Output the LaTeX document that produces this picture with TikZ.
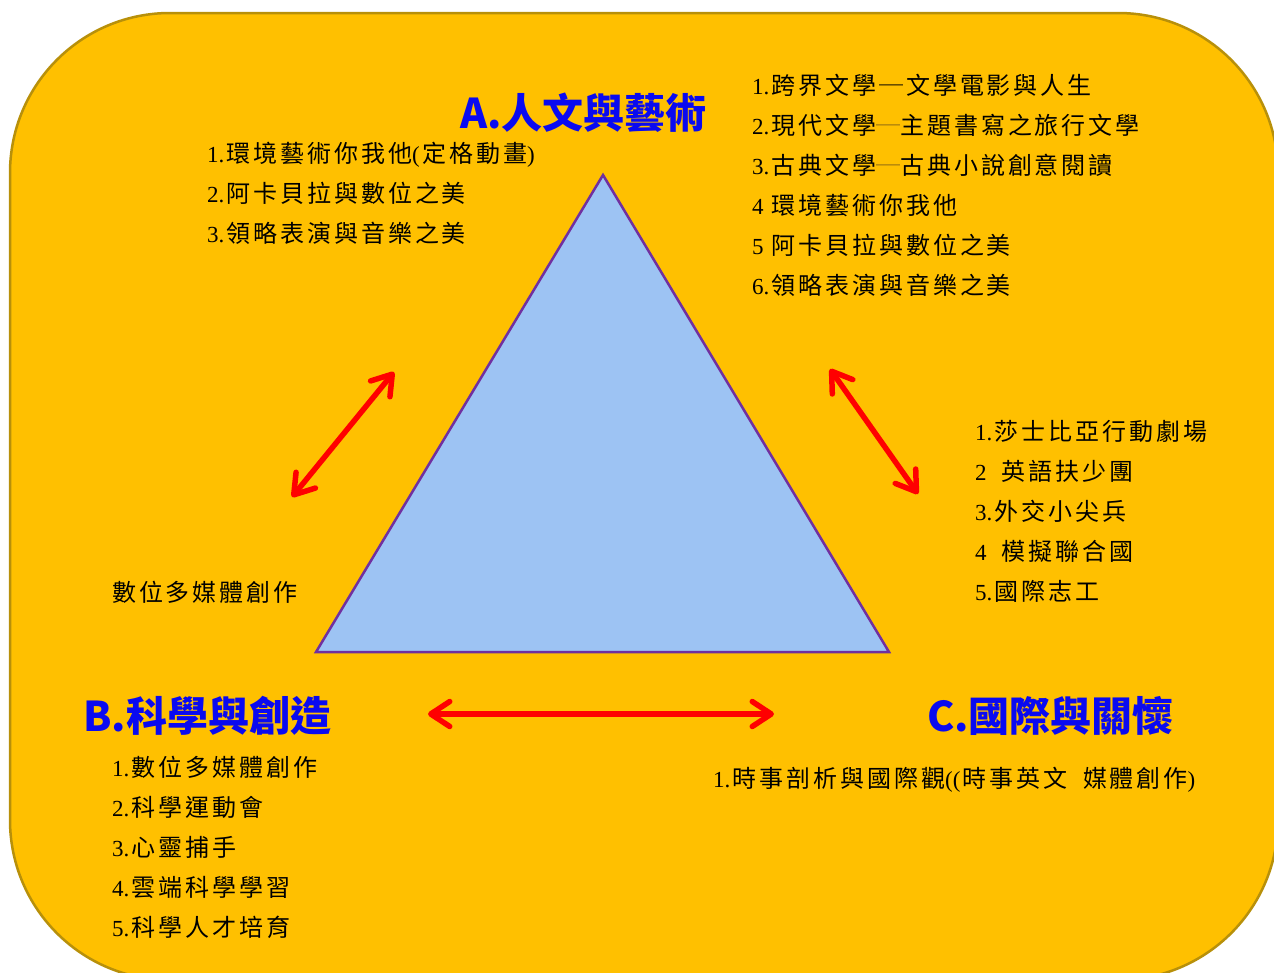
\documentclass[tikz,border=0pt]{standalone}
\usepackage{fontspec}
\usetikzlibrary{arrows.meta}
\setmainfont{Liberation Serif}
\newfontfamily\cjfont{Noto Sans CJK TC}[LetterSpace=12]
\newfontfamily\titlefont{Noto Sans CJK TC}
\newcommand{\cj}[1]{{\kern2.5pt\cjfont\fontsize{24}{24}\selectfont #1}}
\definecolor{bgfill}{RGB}{255,192,0}
\definecolor{bgline}{RGB}{184,144,10}
\definecolor{trifill}{RGB}{157,195,243}
\definecolor{triline}{RGB}{112,48,160}
\definecolor{ttlblue}{RGB}{10,10,240}
\definecolor{dashbrown}{RGB}{140,105,20}
\begin{document}
\begin{tikzpicture}[x=1pt,y=-1pt,
  txt/.style={anchor=base west,inner sep=0pt,font=\fontsize{23}{23}\selectfont},
  ttl/.style={anchor=base west,inner sep=0pt,text=ttlblue,font=\titlefont\bfseries\fontsize{41}{41}\selectfont},
  redarrow/.style={draw=red,line width=5.5pt,line cap=round,
    {Straight Barb[length=19pt,width=25pt,round]}-{Straight Barb[length=19pt,width=25pt,round]}},
  bgbox/.style={fill=bgfill,draw=bgline,line width=2.5pt,rounded corners=160pt},
  tri/.style={fill=trifill,draw=triline,line width=2.5pt,line join=miter}]
\useasboundingbox (0,0) rectangle (1274,972);
\fill[white] (0,0) rectangle (1274,972);
\draw[bgbox] (10,13) rectangle (1278,980);

% triangle
\coordinate (tA) at (603,175);
\coordinate (tB) at (316,652);
\coordinate (tC) at (889,652);
\draw[tri] (tA) -- (tB) -- (tC) -- cycle;

% arrows
\coordinate (l1) at (292,497); \coordinate (l2) at (394,372);
\coordinate (r1) at (830,369); \coordinate (r2) at (918,494);
\coordinate (b1) at (428,714); \coordinate (b2) at (774,714);
\draw[redarrow] (l1) -- (l2);
\draw[redarrow] (r1) -- (r2);
\draw[redarrow] (b1) -- (b2);

% titles
\node[ttl] (ta) at (460,128) {A.人文與藝術};
\node[ttl] (tb) at (83,731) {B.科學與創造};
\node[ttl] (tc) at (927,731) {C.國際與關懷};

% A left list
\node[txt] (al1) at (207,162) {1.\cj{環境藝術你我他}(\cj{定格動畫})};
\node[txt] (al2) at (207,202) {2.\cj{阿卡貝拉與數位之美}};
\node[txt] (al3) at (207,242) {3.\cj{領略表演與音樂之美}};

% A right list
\node[txt] (ar1) at (752,94) {1.\cj{跨界文學─文學電影與人生}};
\node[txt] (ar2) at (752,134) {2.\cj{現代文學{\color{dashbrown}─}主題書寫之旅行文學}};
\node[txt] (ar3) at (752,174) {3.\cj{古典文學{\color{dashbrown}─}古典小說創意閱讀}};
\node[txt] (ar4) at (752,214) {4 \cj{環境藝術你我他}};
\node[txt] (ar5) at (752,254) {5 \cj{阿卡貝拉與數位之美}};
\node[txt] (ar6) at (752,294) {6.\cj{領略表演與音樂之美}};

% C right list
\node[txt] (cr1) at (975,440) {1.\cj{莎士比亞行動劇場}};
\node[txt] (cr2) at (975,480) {2\hspace{12.5pt}\cj{英語扶少團}};
\node[txt] (cr3) at (975,520) {3.\cj{外交小尖兵}};
\node[txt] (cr4) at (975,560) {4\hspace{12.5pt}\cj{模擬聯合國}};
\node[txt] (cr5) at (975,600) {5.\cj{國際志工}};

% B side
\node[txt] (bs) at (109.5,601) {\cj{數位多媒體創作}};
\node[txt] (bl1) at (112,776) {1.\cj{數位多媒體創作}};
\node[txt] (bl2) at (112,816) {2.\cj{科學運動會}};
\node[txt] (bl3) at (112,856) {3.\cj{心靈捕手}};
\node[txt] (bl4) at (112,896) {4.\cj{雲端科學學習}};
\node[txt] (bl5) at (112,936) {5.\cj{科學人才培育}};

% C bottom
\node[txt] (cb1) at (713,787) {1.\cj{時事剖析與國際觀}((\cj{時事英文}\hspace{13pt}\cj{媒體創作})};
\end{tikzpicture}
\end{document}
